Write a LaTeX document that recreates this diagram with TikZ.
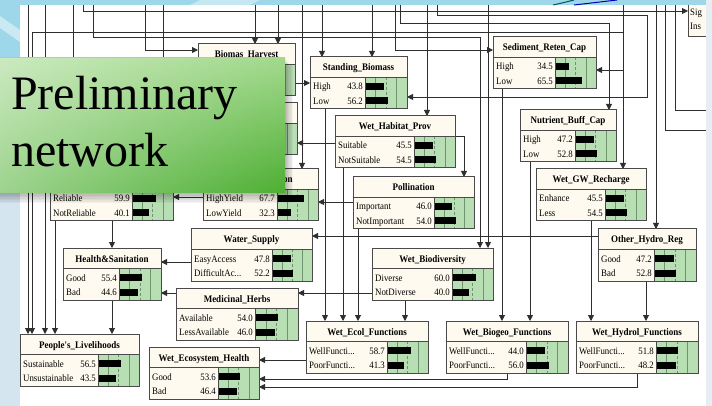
\documentclass[tikz,border=0pt]{standalone}
\usepackage{fontspec}
\setmainfont{Liberation Serif}
\newfontfamily\netfont[FakeStretch=0.9]{Liberation Serif}
\usetikzlibrary{arrows.meta,fadings}
\definecolor{cream}{HTML}{FEFAEF}
\definecolor{bgreen}{HTML}{B8DEB4}
\definecolor{gridc}{HTML}{6F926F}
\definecolor{bordc}{HTML}{4A4A4A}
\definecolor{linec}{HTML}{2E2E2E}
\definecolor{slideA}{HTML}{D4E5F0}
\definecolor{slideB}{HTML}{9FD7EA}
\definecolor{slideR}{HTML}{E6EEF3}
\definecolor{gtop}{HTML}{A2D98C}
\definecolor{gmid}{HTML}{7CC764}
\definecolor{gbot}{HTML}{4DAF32}
\pgfdeclarelayer{back}
\pgfdeclarelayer{conns}
\pgfsetlayers{back,conns,main}
\newcommand{\bnode}[6]{%
  \def\Xa{#2}\def\Ya{#3}\def\Xb{#4}\def\Xg{#5}%
  \fill[cream] (#2,#3) rectangle (#4,#3+52);
  \fill[bgreen] (#5,#3+20) rectangle (#4,#3+52);
  \draw[gridl] ({#5+0.25*(#4-#5)},#3+20) -- ++(0,32);
  \draw[gridl,densely dashed] ({#5+0.5*(#4-#5)},#3+20) -- ++(0,32);
  \draw[gridl] ({#5+0.75*(#4-#5)},#3+20) -- ++(0,32);
  \draw[sepl] (#2,#3+20) -- (#4,#3+20) (#5,#3+20) -- (#5,#3+52);
  \node[bbox,anchor=north west,minimum width={(#4-#2)*1pt},minimum height=52pt] (#1) at (#2,#3) {};
  \node[ttl,anchor=base] (#1t) at ({(#2+#4)/2},#3+14) {#6};
}
\newcommand{\bst}[4]{%
  \node[stt,anchor=base west] (#1) at (\Xa+3,\Ya+#2+3.5) {#3};
  \node[stt,anchor=base east] (#1v) at (\Xg-2,\Ya+#2+3.5) {#4};
  \fill ({\Xg+1},\Ya+#2-3.5) rectangle ({\Xg+1+(\Xb-\Xg-2)*#4/100},\Ya+#2+3.5);
}
\begin{document}
\begin{tikzpicture}[x=1pt,y=-1pt,
  conn/.style={draw=linec,line width=0.85pt},
  arr/.style={conn,-{Triangle[length=6pt,width=6pt]}},
  bbox/.style={draw=bordc,line width=1pt,inner sep=0pt,outer sep=0pt},
  ttl/.style={font=\netfont\bfseries\fontsize{10}{12}\selectfont,inner sep=0pt},
  stt/.style={font=\netfont\fontsize{9.8}{11}\selectfont,inner sep=0pt},
  gridl/.style={draw=gridc,line width=0.45pt},
  sepl/.style={draw=bordc,line width=0.7pt},
  bigt/.style={font=\fontsize{48}{50}\selectfont,inner sep=0pt,text=black}]
\useasboundingbox (0,0) rectangle (712,406);
\begin{pgfonlayer}{back}
  \fill[slideA] (0,0) rectangle (712,406);
  \fill[slideB] (0,0) rectangle (20,60);
  \fill[white,opacity=0.45] (0,16) -- (20,30) -- (20,42) -- (0,28) -- cycle;
  \fill[white] (20,5) rectangle (706,406);
\end{pgfonlayer}

% ---------- nodes ----------
\bnode{BH}{198}{44}{295}{255}{Biomas\_Harvest}
\bnode{HN2}{200}{103}{297}{256}{}
\bnode{SB}{310}{57}{407}{365}{Standing\_Biomass}
\bst{SB1}{29.5}{High}{43.8}\bst{SB2}{44}{Low}{56.2}
\bnode{Sed}{493}{37}{596}{555}{Sediment\_Reten\_Cap}
\bst{Sed1}{29.5}{High}{34.5}\bst{Sed2}{44}{Low}{65.5}
\bnode{Nut}{520}{110}{616}{575}{Nutrient\_Buff\_Cap}
\bst{Nut1}{29.5}{High}{47.2}\bst{Nut2}{44}{Low}{52.8}
\bnode{WHP}{335}{116}{455}{414}{Wet\_Habitat\_Prov}
\bst{WHP1}{29.5}{Suitable}{45.5}\bst{WHP2}{44}{NotSuitable}{54.5}
\bnode{Poll}{353}{177}{474}{434}{Pollination}
\bst{Poll1}{29.5}{Important}{46.0}\bst{Poll2}{44}{NotImportant}{54.0}
\bnode{Yld}{203}{169}{318}{277}{}
\bst{Yld1}{29.5}{HighYield}{67.7}\bst{Yld2}{44}{LowYield}{32.3}
\node[ttl,anchor=base west] (Yldt2) at (283,183) {on};
\bnode{Rel}{50}{169}{173}{132}{}
\bst{Rel1}{29.5}{Reliable}{59.9}\bst{Rel2}{44}{NotReliable}{40.1}
\bnode{WGR}{536}{169}{646}{605}{Wet\_GW\_Recharge}
\bst{WGR1}{29.5}{Enhance}{45.5}\bst{WGR2}{44}{Less}{54.5}
\bnode{WS}{191}{229}{312}{272}{Water\_Supply}
\bst{WS1}{29.5}{EasyAccess}{47.8}\bst{WS2}{44}{DifficultAc...}{52.2}
\bnode{OHR}{598}{229}{696}{654}{Other\_Hydro\_Reg}
\bst{OHR1}{29.5}{Good}{47.2}\bst{OHR2}{44}{Bad}{52.8}
\bnode{HS}{63}{248}{161}{119}{Health\&Sanitation}
\bst{HS1}{29.5}{Good}{55.4}\bst{HS2}{44}{Bad}{44.6}
\bnode{WB}{372}{248}{493}{452}{Wet\_Biodiversity}
\bst{WB1}{29.5}{Diverse}{60.0}\bst{WB2}{44}{NotDiverse}{40.0}
\bnode{MH}{176}{288}{298}{255}{Medicinal\_Herbs}
\bst{MH1}{29.5}{Available}{54.0}\bst{MH2}{44}{LessAvailable}{46.0}
\bnode{WEF}{306}{321}{428}{387}{Wet\_Ecol\_Functions}
\bst{WEF1}{29.5}{WellFuncti...}{58.7}\bst{WEF2}{44}{PoorFuncti...}{41.3}
\bnode{WBF}{446}{321}{568}{526}{Wet\_Biogeo\_Functions}
\bst{WBF1}{29.5}{WellFuncti...}{44.0}\bst{WBF2}{44}{PoorFuncti...}{56.0}
\bnode{WHF}{576}{321}{698}{656}{Wet\_Hydrol\_Functions}
\bst{WHF1}{29.5}{WellFuncti...}{51.8}\bst{WHF2}{44}{PoorFuncti...}{48.2}
\bnode{PL}{20}{334}{139}{98}{People's\_Livelihoods}
\bst{PL1}{29.5}{Sustainable}{56.5}\bst{PL2}{44}{Unsustainable}{43.5}
\bnode{WEH}{149}{347}{259}{218}{Wet\_Ecosystem\_Health}
\bst{WEH1}{29.5}{Good}{53.6}\bst{WEH2}{44}{Bad}{46.4}
% cut-off node at the top right
\fill[cream] (688,5) rectangle (706,36);
\draw[sepl] (706,36) -- (688,36) -- (688,5);
\node[inner sep=0pt,outer sep=0pt,anchor=north west,minimum width=18pt,minimum height=31pt] (Sig) at (688,5) {};
\node[stt,anchor=base west] (Sig1) at (690,16) {Sig};
\node[stt,anchor=base west] (Sig2) at (690,30) {Ins};

% ---------- connectors ----------
\begin{pgfonlayer}{conns}
\foreach \n/\x in {t28/28,t45/45,t73/73,t83/83,t93/93,t145/145,t163/163,t255/255,t278/278,t302/302,t322/322,t372/372,t395/395,t400/400,t427/427,t437/437,t488/488,t623/623,t656/656,t665/665,t675/675}
  \coordinate (\n) at (\x,5);
\coordinate (j32) at (623,32);
\coordinate (j70) at (623,70);
\coordinate (e110) at (706,110);
\coordinate (e130) at (706,130);
\draw[arr] (t28) -- ([xshift=8pt]PL.north west);
\draw[arr] (j32) -- (32,32) -- ([xshift=12pt]PL.north west);
\draw[arr] (t45) -- ([xshift=25pt]PL.north west);
\draw[arr] ([xshift=5pt]Rel.south west) -- ([xshift=35pt]PL.north west);
\draw[arr] ([xshift=49pt]HS.south west) -- ([xshift=92pt]PL.north west);
\draw[arr] ([xshift=62pt]Rel.south west) -- ([xshift=49pt]HS.north west);
\draw[arr] ([yshift=-33pt]WS.north west) -- ([yshift=-14pt]HS.north east);
\draw[arr] ([yshift=-5pt]MH.north west) -- ([yshift=-45pt]HS.north east);
\draw[arr] ([yshift=-7pt]OHR.north west) -- ([yshift=-7pt]WS.north east);
\draw[arr] ([yshift=-45pt]WB.north west) -- ([yshift=-5pt]MH.north east);
\draw[arr] ([yshift=-28pt]Yld.north west) -- ([yshift=-28pt]Rel.north east);
\draw[arr] ([yshift=-25pt]Poll.north west) -- ([yshift=-33pt]Yld.north east);
\draw[arr] ([yshift=-20pt]WHP.north east) -| ([xshift=111pt]Poll.north west);
\draw[arr] ([yshift=-27pt]WHP.north west) -- ([yshift=-40pt]HN2.north east);
\draw[arr] ([yshift=-39pt]BH.north east) -- ([yshift=-26pt]SB.north west);
\draw[arr] ([xshift=15pt]SB.south west) -- ([xshift=19pt]WEF.north west);
\draw[arr] ([xshift=8pt]WHP.south west) -- ([xshift=37pt]WEF.north west);
\draw[arr] ([xshift=5pt]Poll.south west) -- ([xshift=52pt]WEF.north west);
\draw[arr] ([xshift=33pt]WB.south west) -- ([xshift=99pt]WEF.north west);
\draw[arr] ([yshift=-39pt]WEF.north west) -- ([yshift=-13pt]WEH.north east);
\draw[arr] ([xshift=61pt]WBF.south west) |- ([yshift=-32pt]WEH.north east);
\draw[arr] ([xshift=61pt]WHF.south west) |- ([yshift=-40pt]WEH.north east);
\draw[arr] ([xshift=9pt]Sed.south west) -- ([xshift=56pt]WBF.north west);
\draw[arr] ([xshift=10pt]Nut.south west) -- ([xshift=84pt]WBF.north west);
\draw[arr] ([xshift=55pt]WGR.south west) -- ([xshift=15pt]WHF.north west);
\draw[arr] ([xshift=48pt]OHR.south west) -- ([xshift=70pt]WHF.north west);
\draw[arr] (t623) -- ([xshift=87pt]WGR.north west);
\draw[arr] (j70) -- ([yshift=-33pt]Sed.north east);
\draw[arr] (t656) -- ([xshift=58pt]OHR.north west);
\draw[arr] (t93) |- (480,37) -- ([xshift=108pt]WB.north west);
\draw[arr] (t488) -- ([xshift=116pt]WB.north west);
\draw[arr] (t427) -- ([xshift=92pt]WHP.north west);
\draw[arr] (t400) |- (609,23) -- ([xshift=89pt]Nut.north west);
\draw[arr] (t395) |- ([yshift=-13pt]Sed.north west);
\draw[arr] (t437) |- (647,15) |- ([yshift=-40pt]SB.north east);
\draw[arr] (t322) -- ([xshift=12pt]SB.north west);
\draw[arr] (t372) -- ([xshift=62pt]SB.north west);
\draw[arr] (t302) -- ([xshift=99pt]Yld.north west);
\draw[arr] (t255) -- ([xshift=57pt]BH.north west);
\draw[arr] (t278) -- ([xshift=80pt]BH.north west);
\draw[arr] (t145) |- ([yshift=-6pt]BH.north west);
\draw[arr] (t83) |- ([yshift=-6pt]Sig.north west);
\draw[arr] (t73) -- ([xshift=23pt]Rel.north west);
\draw[arr] (t163) -- ([xshift=113pt]Rel.north west);
\draw[conn] (t665) |- (e130);
\draw[conn] (t675) |- (e110);
\end{pgfonlayer}

% ---------- slide frame over the screenshot ----------
\fill[slideB] (20,0) rectangle (706,5);
\fill[white,opacity=0.4] (200,0) -- (260,0) -- (250,5) -- (190,5) -- cycle;
\draw[teal!70!black,line width=1pt] (553,5) .. controls (562,3) .. (574,0);
\draw[blue!70!black,line width=1pt] (574,5) .. controls (595,2) .. (617,0);
\fill[slideR] (706,0) rectangle (712,406);

% ---------- green title box ----------
\foreach \i in {1,...,7}
  \fill[black,opacity=0.045] (0,58+\i*1.2) rectangle (285+\i*1.1,193+\i*1.5);
\begin{scope}
  \clip (0,58) rectangle (285,193);
  \shade[top color=gtop,middle color=gmid,bottom color=gbot] (0,58) rectangle (285,193);
  \fill[white,opacity=0.45,path fading=east] (0,58) rectangle (285,193);
\end{scope}
\node[bigt,anchor=base west] (tpre) at (11,110) {Preliminary};
\node[bigt,anchor=base west] (tnet) at (11,167) {network};
\end{tikzpicture}
\end{document}
